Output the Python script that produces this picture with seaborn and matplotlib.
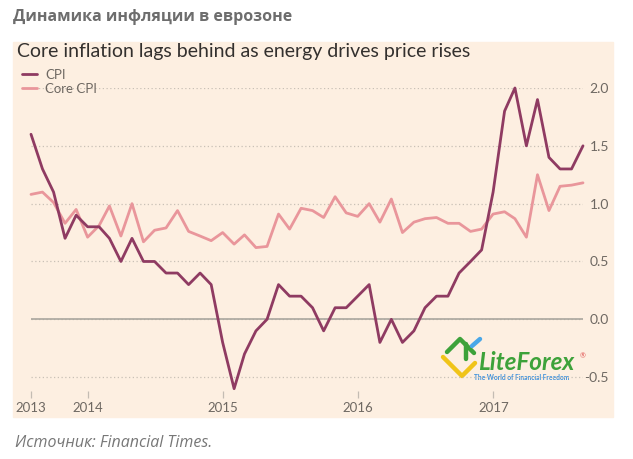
import matplotlib
matplotlib.use("Agg")
import matplotlib.pyplot as plt
import matplotlib.patches as mpatches
import matplotlib.lines as mlines
import pandas as pd
import seaborn as sns

# monthly euro-zone inflation, Jul 2013 - Aug 2017 (% y/y)
months = pd.date_range("2013-07-31", periods=50, freq="ME")
cpi = [1.6, 1.3, 1.1, 0.7, 0.9, 0.8, 0.8, 0.7, 0.5, 0.7,
       0.5, 0.5, 0.4, 0.4, 0.3, 0.4, 0.3, -0.2, -0.6, -0.3,
       -0.1, 0.0, 0.3, 0.2, 0.2, 0.1, -0.1, 0.1, 0.1, 0.2,
       0.3, -0.2, 0.0, -0.2, -0.1, 0.1, 0.2, 0.2, 0.4, 0.5,
       0.6, 1.1, 1.8, 2.0, 1.5, 1.9, 1.4, 1.3, 1.3, 1.5]
core_cpi = [1.08, 1.10, 1.01, 0.83, 0.95, 0.71, 0.81, 0.98, 0.72, 1.00,
            0.67, 0.77, 0.79, 0.94, 0.76, 0.72, 0.68, 0.75, 0.65, 0.73,
            0.62, 0.63, 0.91, 0.78, 0.96, 0.94, 0.88, 1.06, 0.92, 0.89,
            1.00, 0.84, 1.04, 0.75, 0.84, 0.87, 0.88, 0.83, 0.83, 0.76,
            0.78, 0.91, 0.93, 0.87, 0.71, 1.25, 0.94, 1.15, 1.16, 1.18]
year_ticks = ["2013-07-31", "2014-01-01", "2015-01-01", "2016-01-01", "2017-01-01"]
year_labels = ["2013", "2014", "2015", "2016", "2017"]
y_ticks = [-0.5, 0.0, 0.5, 1.0, 1.5, 2.0]

df = pd.DataFrame({"month": months, "CPI": cpi, "Core CPI": core_cpi})

sns.set_style("white")
plt.rcParams["font.family"] = ["Lato", "DejaVu Sans"]

W, H = 633, 459
fig = plt.figure(figsize=(W / 100, H / 100), dpi=100)


def fx(px):
    return px / W


def fy(py):
    return 1 - py / H


# FT pink-beige panel
fig.patches.append(mpatches.Rectangle((fx(12.5), fy(416.5)), 600 / W, 375 / H,
                                      transform=fig.transFigure, color="#fdefe1", zorder=-10))

ax = fig.add_axes([fx(31), fy(391), 552 / W, 303 / H])
ax.set_facecolor("none")
ax.set_zorder(5)

cpi_color = "#8f3b62"
core_color = "#e9969b"
sns.lineplot(data=df, x="month", y="Core CPI", color=core_color, lw=2.0, ax=ax, label="Core CPI")
sns.lineplot(data=df, x="month", y="CPI", color=cpi_color, lw=2.0, ax=ax, label="CPI")
for ln in ax.lines:
    ln.set_clip_on(False)

ax.set_xlim(months[0], months[-1])
ax.set_ylim(-0.62, 2.0)
for s in ax.spines.values():
    s.set_visible(False)

ax.set_yticks(y_ticks)
ax.set_yticklabels([f"{v:.1f}" for v in y_ticks])
ax.yaxis.tick_right()
ax.tick_params(axis="y", length=0, pad=18.7, labelsize=10, labelcolor="#6e6862")
for lab in ax.get_yticklabels():
    lab.set_horizontalalignment("right")
ax.grid(axis="y", linestyle=(0, (1, 2)), color="#c9c0b6", lw=0.9)
ax.grid(axis="x", visible=False)
ax.axhline(0, color="#aaa69e", lw=1.2, zorder=1)

ax.set_xticks(pd.to_datetime(year_ticks))
ax.set_xticklabels(year_labels)
ax.tick_params(axis="x", bottom=True, direction="out", length=5, width=0.9, color="#c4bcb3",
               pad=3, labelsize=9.5, labelcolor="#6e6862")
ax.set_xlabel("")
ax.set_ylabel("")

# legend drawn like the FT key
handles, labels = ax.get_legend_handles_labels()
order = [labels.index("CPI"), labels.index("Core CPI")]
ax.legend([handles[i] for i in order], [labels[i] for i in order],
          loc="upper left", bbox_to_anchor=(fx(15), fy(62)), bbox_transform=fig.transFigure,
          frameon=False, fontsize=9.5, handlelength=1.2, handletextpad=0.6,
          labelspacing=0.15, labelcolor="#6e6862", borderpad=0)

fig.text(fx(13), fy(17), "Динамика инфляции в еврозоне", fontsize=11.5, fontweight="bold",
         color="#6d6d6d", va="center", family=["Open Sans", "DejaVu Sans"])
fig.text(fx(17), fy(52), "Core inflation lags behind as energy drives price rises",
         fontsize=14, color="#33302e", va="center")
fig.text(fx(15), fy(443), "Источник: Financial Times.", fontsize=11.5, style="italic",
         color="#777777", va="center", family=["Open Sans", "DejaVu Sans"])

# watermark logo
for pts, col in [([(443, 357), (462, 376), (475, 363)], "#f0c419"),
                 ([(447, 352), (460, 339), (474, 353)], "#3da23a"),
                 ([(466, 344), (466, 359)], "#3da23a"),
                 ([(472, 346), (480, 339)], "#49a7e8")]:
    xs = [fx(p[0]) for p in pts]
    ys = [fy(p[1]) for p in pts]
    fig.lines.append(mlines.Line2D(xs, ys, transform=fig.transFigure, color=col, lw=3.2,
                                   solid_capstyle="round"))
fig.text(fx(478), fy(362), "LiteForex", fontsize=17.5, fontweight="bold", style="italic",
         color="#3da23a", va="center")
fig.text(fx(580), fy(356), "®", fontsize=5, color="#e05050", va="center")
fig.text(fx(474), fy(377), "The World of Financial Freedom", fontsize=4.8, fontweight="bold",
         color="#3a8fdc", va="center")

fig.savefig("out.png", dpi=100)
